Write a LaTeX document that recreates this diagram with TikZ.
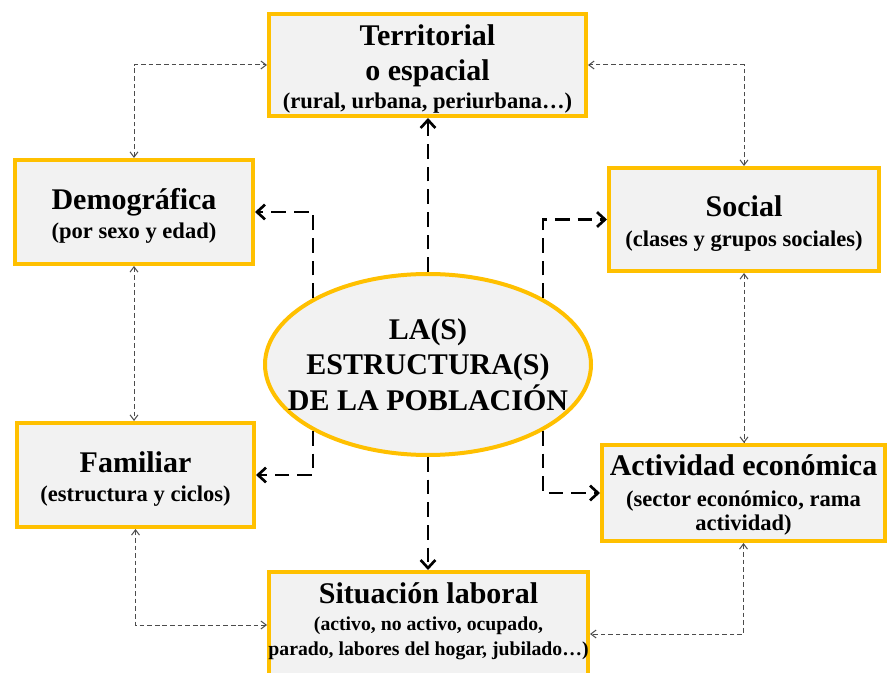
\documentclass[tikz,border=0pt]{standalone}
\usepackage{fontspec}
\setmainfont{Liberation Serif}
\usetikzlibrary{shapes.geometric,arrows.meta,calc}
\definecolor{gold}{HTML}{FFC000}
\definecolor{boxgray}{HTML}{F2F2F2}
\begin{document}
\begin{tikzpicture}[x=0.75pt,y=-0.75pt,
  box/.style={rectangle,draw=gold,line width=3pt,fill=boxgray,inner sep=0pt},
  oval/.style={ellipse,draw=gold,line width=3pt,fill=boxgray,inner sep=0pt},
  ttl/.style={font=\bfseries\fontsize{22.5}{27}\selectfont,anchor=base,inner sep=0pt},
  sub/.style={font=\bfseries\fontsize{16.9}{20}\selectfont,anchor=base,inner sep=0pt},
  smallsub/.style={font=\bfseries\fontsize{14.8}{18}\selectfont,anchor=base,inner sep=0pt},
  bigarrow/.style={line width=2pt,dash pattern=on 11pt off 6pt,-{Straight Barb[length=6pt,width=11pt]}},
  link/.style={black!70,line width=0.75pt,dash pattern=on 3.5pt off 2.2pt,
    {Straight Barb[length=4pt,width=6pt]}-{Straight Barb[length=4pt,width=6pt]}}]
\useasboundingbox (0,0) rectangle (889,673);
\clip (0,0) rectangle (889,673);
\fill[white] (0,0) rectangle (889,673);
% boxes
\node[box,minimum width=237.75pt,minimum height=76.5pt] (terr) at (427.5,65) {};
\node[box,minimum width=178.5pt,minimum height=78pt] (demo) at (134,212) {};
\node[box,minimum width=202.5pt,minimum height=77.25pt] (soc) at (744,219.5) {};
\node[box,minimum width=177.75pt,minimum height=78pt] (fam) at (135.5,475) {};
\node[box,minimum width=212.25pt,minimum height=72pt] (act) at (743.5,493) {};
\node[box,minimum width=239.25pt,minimum height=87pt] (sit) at (428.5,630) {};
\node[oval,minimum width=244.5pt,minimum height=135.75pt] (ell) at (428,364.5) {};
% texts
\node[ttl] (terrA) at (427.5,46) {Territorial};
\node[ttl] (terrB) at (427.5,81) {o espacial};
\node[sub] (terrC) at (427.5,109) {(rural, urbana, periurbana…)};
\node[ttl] (demoA) at (134,210) {Demográfica};
\node[sub] (demoB) at (134,239) {(por sexo y edad)};
\node[ttl] (socA) at (744,217) {Social};
\node[sub] (socB) at (744,246.5) {(clases y grupos sociales)};
\node[ttl] (famA) at (135.5,472.5) {Familiar};
\node[sub] (famB) at (135.5,501.5) {(estructura y ciclos)};
\node[ttl] (actA) at (743.5,475) {Actividad económica};
\node[sub] (actB) at (743.5,506.5) {(sector económico, rama};
\node[sub] (actC) at (743.5,530) {actividad)};
\node[ttl] (sitA) at (428.5,603.5) {Situación laboral};
\node[smallsub] (sitB) at (428.5,630) {(activo, no activo, ocupado,};
\node[smallsub] (sitC) at (428.5,655) {parado, labores del hogar, jubilado…)};
\node[ttl] (ellA) at (428,340) {LA(S)};
\node[ttl] (ellB) at (428,375) {ESTRUCTURA(S)};
\node[ttl] (ellC) at (428,410.5) {DE LA POBLACIÓN};
% thick dashed arrows from the ellipse
\draw[bigarrow] (ell.north) -- (ell.north |- terr.south);
\draw[bigarrow] (ell.south) -- (ell.south |- sit.north);
\draw[bigarrow] (ell.150) |- (demo.east);
\draw[bigarrow] (ell.210) |- (fam.east);
\draw[bigarrow] (ell.30) |- (soc.west);
\draw[bigarrow] (ell.330) |- (act.west);
% thin dashed links between boxes
\coordinate (sitW) at ([yshift=-41.25pt]sit.north west);
\coordinate (sitE) at ([yshift=-48pt]sit.north east);
\draw[link] (demo.north) |- (terr.west);
\draw[link] (soc.north) |- (terr.east);
\draw[link] (demo.south) -- (demo.south |- fam.north);
\draw[link] (soc.south) -- (soc.south |- act.north);
\draw[link] (fam.south) |- (sitW);
\draw[link] (act.south) |- (sitE);
\end{tikzpicture}
\end{document}
